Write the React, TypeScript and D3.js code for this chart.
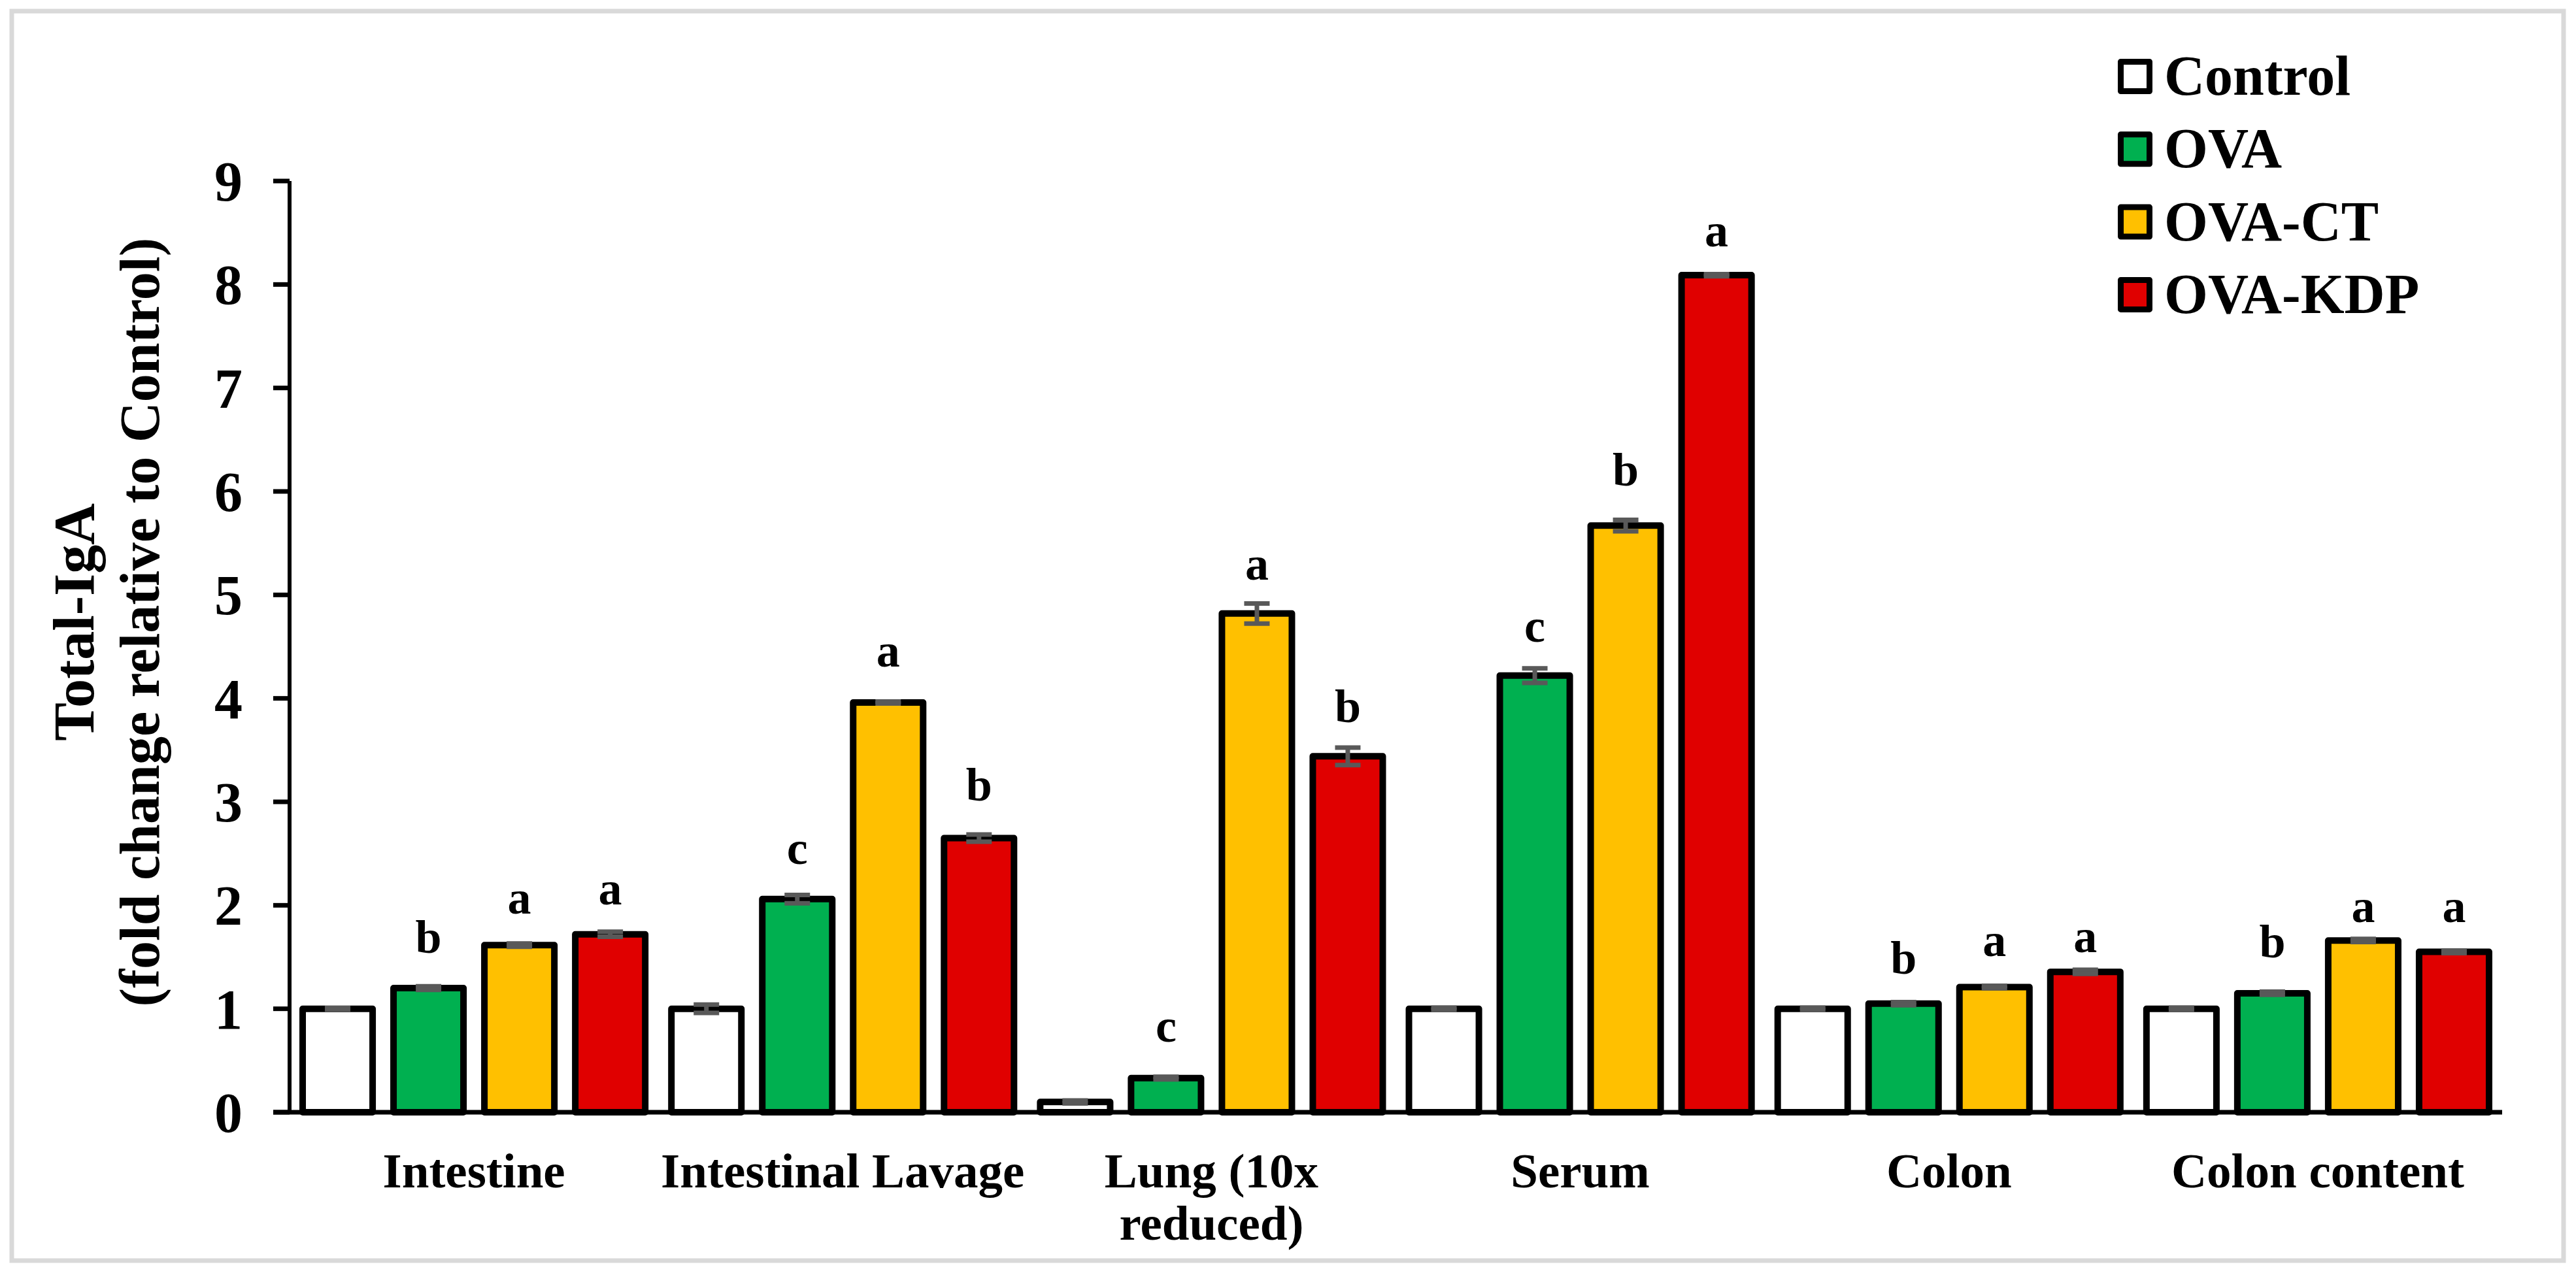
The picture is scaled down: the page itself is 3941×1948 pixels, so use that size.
import React from "react";
import * as d3 from "d3";

const categories = ["Intestine", "Intestinal Lavage", "Lung (10x reduced)", "Serum", "Colon", "Colon content"];
const categoryLines = [["Intestine"], ["Intestinal Lavage"], ["Lung (10x", "reduced)"], ["Serum"], ["Colon"], ["Colon content"]];
const seriesNames = ["Control", "OVA", "OVA-CT", "OVA-KDP"];
const seriesColors = ["#FFFFFF", "#00B050", "#FFC000", "#E00000"];

const controlValues = [1.0, 1.0, 0.1, 1.0, 1.0, 1.0];
const ovaValues = [1.2, 2.06, 0.33, 4.22, 1.05, 1.15];
const ovaCtValues = [1.615, 3.96, 4.82, 5.67, 1.21, 1.66];
const ovaKdpValues = [1.72, 2.65, 3.44, 8.09, 1.357, 1.55];

const controlErr = [0.007, 0.04, 0.014, 0.01, 0.01, 0.01];
const ovaErr = [0.017, 0.04, 0.012, 0.07, 0.015, 0.015];
const ovaCtErr = [0.016, 0.01, 0.097, 0.055, 0.012, 0.015];
const ovaKdpErr = [0.024, 0.035, 0.085, 0.01, 0.02, 0.012];

const controlLetters = ["", "", "", "", "", ""];
const ovaLetters = ["b", "c", "c", "c", "b", "b"];
const ovaCtLetters = ["a", "a", "a", "b", "a", "a"];
const ovaKdpLetters = ["a", "b", "b", "a", "a", "a"];

const controlLetterY = [0, 0, 0, 0, 0, 0];
const ovaLetterY = [1.54, 2.4, 0.68, 4.55, 1.34, 1.5];
const ovaCtLetterY = [1.92, 4.31, 5.15, 6.06, 1.51, 1.84];
const ovaKdpLetterY = [2.01, 3.01, 3.77, 8.37, 1.55, 1.84];

const yTicks = [0, 1, 2, 3, 4, 5, 6, 7, 8, 9];

const W = 3941;
const H = 1948;
const FONT = "'Liberation Serif', 'Times New Roman', serif";

export default function App() {
  const values = [controlValues, ovaValues, ovaCtValues, ovaKdpValues];
  const errs = [controlErr, ovaErr, ovaCtErr, ovaKdpErr];
  const letters = [controlLetters, ovaLetters, ovaCtLetters, ovaKdpLetters];
  const letterYs = [controlLetterY, ovaLetterY, ovaCtLetterY, ovaKdpLetterY];

  const left = 443;
  const right = 3828;
  const y = d3.scaleLinear().domain([0, 9]).range([1702, 277]);
  const x0 = d3.scaleBand<string>().domain(categories).range([left, right]).paddingInner(0).paddingOuter(0);
  const x1 = d3
    .scaleBand<string>()
    .domain(seriesNames)
    .range([0, x0.bandwidth()])
    .paddingInner(0.23)
    .paddingOuter(0.144);

  const capHalf = 19.5;
  const legendX = 3244.5;
  const legendRow0 = 117;
  const legendStep = 111.3;

  return (
    <svg
      width={W}
      height={H}
      viewBox={`0 0 ${W} ${H}`}
      style={{ position: "absolute", left: 0, top: 0, display: "block", background: "#fff" }}
      fontFamily={FONT}
    >
      <rect x={0} y={0} width={W} height={H} fill="#fff" />
      <rect x={18} y={17} width={3904} height={1912} fill="none" stroke="#D9D9D9" strokeWidth={7} />

      {/* bars */}
      {categories.map((c, ci) =>
        seriesNames.map((s, si) => {
          const v = values[si][ci];
          const bx = (x0(c) as number) + (x1(s) as number);
          const bw = x1.bandwidth();
          return (
            <rect
              key={`bar-${ci}-${si}`}
              x={bx}
              y={y(v)}
              width={bw}
              height={y(0) - y(v)}
              fill={seriesColors[si]}
              stroke="#000"
              strokeWidth={10}
              strokeLinejoin="round"
            />
          );
        })
      )}

      {/* axes */}
      <line x1={418} x2={right} y1={y(0)} y2={y(0)} stroke="#000" strokeWidth={7} />
      <line x1={left} x2={left} y1={y(9)} y2={y(0)} stroke="#000" strokeWidth={6} />
      {yTicks.map((t) => (
        <g key={`t-${t}`}>
          <line x1={418} x2={left} y1={y(t)} y2={y(t)} stroke="#000" strokeWidth={7} />
          <text
            x={371}
            y={y(t)}
            dy="0.35em"
            textAnchor="end"
            fontSize={86}
            fontWeight="bold"
            fill="#000"
          >
            {t}
          </text>
        </g>
      ))}

      {/* error bars */}
      {categories.map((c, ci) =>
        seriesNames.map((s, si) => {
          const v = values[si][ci];
          const e = errs[si][ci];
          const cx = (x0(c) as number) + (x1(s) as number) + x1.bandwidth() / 2;
          return (
            <g key={`err-${ci}-${si}`} stroke="#595959" strokeWidth={7}>
              <line x1={cx} x2={cx} y1={y(v + e)} y2={y(v - e)} />
              <line x1={cx - capHalf} x2={cx + capHalf} y1={y(v + e)} y2={y(v + e)} />
              <line x1={cx - capHalf} x2={cx + capHalf} y1={y(v - e)} y2={y(v - e)} />
            </g>
          );
        })
      )}

      {/* significance letters */}
      {categories.map((c, ci) =>
        seriesNames.map((s, si) => {
          const l = letters[si][ci];
          if (!l) return null;
          const cx = (x0(c) as number) + (x1(s) as number) + x1.bandwidth() / 2;
          return (
            <text
              key={`let-${ci}-${si}`}
              x={cx}
              y={y(letterYs[si][ci])}
              textAnchor="middle"
              fontSize={72}
              fontWeight="bold"
              fill="#000"
            >
              {l}
            </text>
          );
        })
      )}

      {/* category labels */}
      {categories.map((c, ci) => (
        <text
          key={`cat-${ci}`}
          x={(x0(c) as number) + x0.bandwidth() / 2}
          y={1817}
          textAnchor="middle"
          fontSize={75}
          fontWeight="bold"
          fill="#000"
        >
          {categoryLines[ci].map((line, li) => (
            <tspan key={li} x={(x0(c) as number) + x0.bandwidth() / 2} dy={li === 0 ? 0 : 80}>
              {line}
            </tspan>
          ))}
        </text>
      ))}

      {/* y axis title */}
      <text
        transform="translate(143, 952) rotate(-90)"
        textAnchor="middle"
        fontSize={88}
        fontWeight="bold"
        fill="#000"
      >
        Total-IgA
      </text>
      <text
        transform="translate(243, 952) rotate(-90)"
        textAnchor="middle"
        fontSize={86}
        fontWeight="bold"
        fill="#000"
      >
        (fold change relative to Control)
      </text>

      {/* legend */}
      {seriesNames.map((s, si) => {
        const cy = legendRow0 + si * legendStep;
        return (
          <g key={`leg-${si}`}>
            <rect
              x={legendX}
              y={cy - 22.5}
              width={44}
              height={45}
              fill={seriesColors[si]}
              stroke="#000"
              strokeWidth={9}
              strokeLinejoin="round"
            />
            <text x={3311} y={cy + 28} fontSize={86} fontWeight="bold" fill="#000">
              {s}
            </text>
          </g>
        );
      })}
    </svg>
  );
}
